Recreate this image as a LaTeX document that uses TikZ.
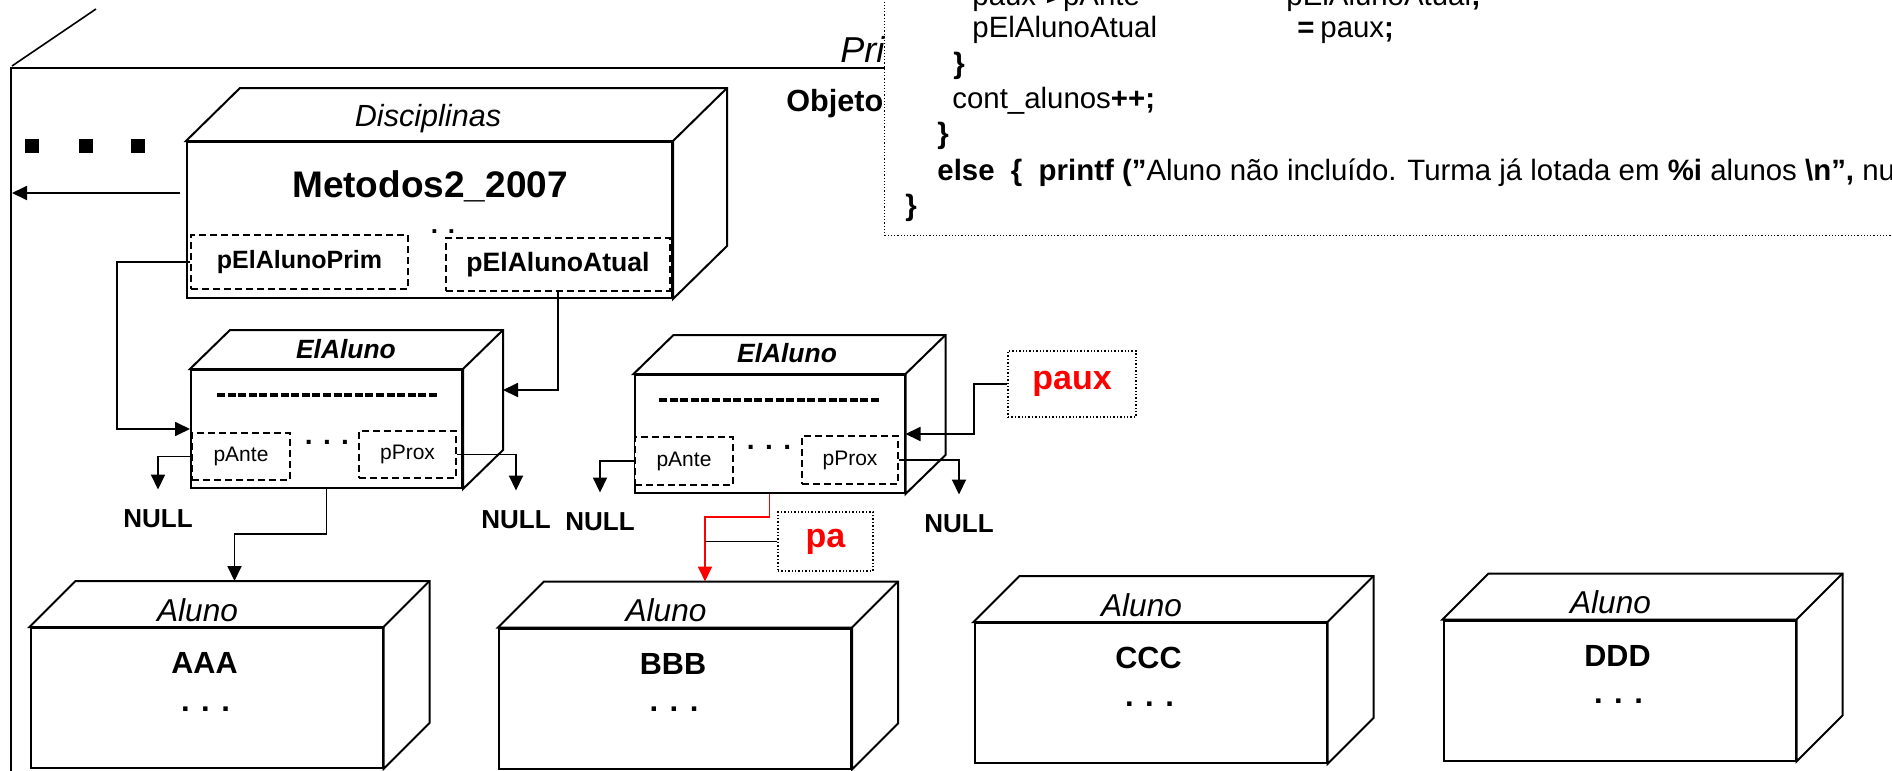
\documentclass[tikz,border=0pt]{standalone}
\usepackage{fontspec}
\setmainfont{Liberation Sans}
\usepackage{tikz}
\usetikzlibrary{arrows.meta, positioning, calc}
\definecolor{vermelho}{HTML}{FF0000}
\newcommand{\tam}[1]{\fontsize{#1}{#1}\selectfont}
% faces de cima e do lado de uma caixa 3D
\newcommand{\faces}[3]{%
  \draw[line width=1pt, line join=miter, fill=white] (#1.north west) -- ++(#2,#3)
    -- ($(#1.north east)+(#2,#3)$) -- ($(#1.south east)+(#2,#3)$)
    -- (#1.south east) -- (#1.north east) -- cycle;
  \draw[line width=1pt] (#1.north east) -- ++(#2,#3);
  \coordinate (#1-topo) at ($(#1.north)+(#2,#3)$);
}

\begin{document}
\begin{tikzpicture}[
  x=0.5pt, y=-0.5pt,
  cubo/.style={draw, line width=1pt, fill=white, inner sep=0,
               minimum width=176pt, minimum height=70pt},
  campo/.style={draw, line width=0.9pt, dash pattern=on 3.5pt off 2pt,
                fill=white, inner sep=0},
  rotulo/.style={draw, line width=0.7pt, densely dotted, text=vermelho,
                 font=\bfseries\tam{17}},
  nulo/.style={inner sep=0, font=\bfseries\tam{13}},
  seta/.style={-{Triangle[length=7.5pt,width=7pt]}, line width=0.9pt},
  cod/.style={anchor=base west, inner sep=0, font=\tam{14.7}}
]
\useasboundingbox (0,0) rectangle (1892,771);
\clip (0,0) rectangle (1892,771);

\draw[line width=0.8pt] (11,790) -- (11,68) -- (900,68);
\draw[line width=0.8pt] (12,66) -- (96,9);
\node[anchor=base west, inner sep=0, font=\itshape\tam{18}] (pri) at (840,62) {Pri};
\node[anchor=base west, inner sep=0, font=\bfseries\tam{15.3}] (objeto) at (786,112) {Objeto};
\foreach \x in {32,86,138} \fill (\x-7,139) rectangle ++(14,14);

% Disciplinas
\node[cubo, minimum width=242.5pt, minimum height=78pt] (disc) at (429.5,220) {};
\faces{disc}{54}{-53}
\node[font=\itshape\tam{15.3}] (disctipo) at (428,119) {Disciplinas};
\node[font=\bfseries\tam{18.5}] (metodos) at (430,186) {Metodos2\_2007};
\node[campo, minimum width=108.5pt, minimum height=27pt, font=\bfseries\tam{12.5}]
  (prim) at (299.5,262) {pElAlunoPrim};
\node[campo, minimum width=112pt, minimum height=26.5pt, font=\bfseries\tam{13.3}]
  (atual) at (558,264.5) {pElAlunoAtual};
\node[font=\bfseries\tam{13}] (pontos0) at (443,232) {. .};
\coordinate (borda) at (12,193);

% ElAluno 1
\node[cubo, minimum width=135.5pt, minimum height=59pt] (el1) at (326.5,429) {};
\faces{el1}{40}{-39}
\node[font=\bfseries\itshape\tam{13.2}] (el1tipo) at (346,349) {ElAluno};
\draw[line width=2.2pt, dash pattern=on 4pt off 1.3pt] (217,395) -- (438,395);
\node[campo, minimum width=49pt, minimum height=23.5pt, font=\tam{10.5}] (ante1) at (241,456.5) {pAnte};
\node[campo, minimum width=48.5pt, minimum height=23.5pt, font=\tam{10.5}] (prox1) at (407.5,454.5) {pProx};
\node[font=\bfseries\tam{14}] (pontos1) at (327,442) {. . .};

% ElAluno 2
\node[cubo, minimum width=135pt, minimum height=59pt] (el2) at (769.5,434) {};
\faces{el2}{40}{-39}
\node[font=\bfseries\itshape\tam{13.2}] (el2tipo) at (787,353) {ElAluno};
\draw[line width=2.2pt, dash pattern=on 4pt off 1.3pt] (659,400) -- (881,400);
\node[campo, minimum width=49pt, minimum height=24pt, font=\tam{10.5}] (ante2) at (684,461) {pAnte};
\node[campo, minimum width=48pt, minimum height=24pt, font=\tam{10.5}] (prox2) at (850,460) {pProx};
\node[font=\bfseries\tam{14}] (pontos2) at (769,447) {. . .};

\node[nulo] (null1) at (158,519) {NULL};
\node[nulo] (null2) at (516,520) {NULL};
\node[nulo] (null3) at (600,522) {NULL};
\node[nulo] (null4) at (959,524) {NULL};

\node[rotulo, minimum width=64pt, minimum height=33pt] (paux) at (1072,384) {paux};
\node[rotulo, minimum width=47.5pt, minimum height=29.5pt] (pa) at (825.5,541.5) {pa};

% Alunos
\foreach \n/\x/\y/\t in {aaa/206.5/698/AAA, bbb/675/698.5/BBB,
                         ccc/1150.5/693/CCC, ddd/1619.5/690.5/DDD} {
  \node[cubo] (\n) at (\x,\y) {};
  \faces{\n}{46}{-46}
  \node[font=\itshape\tam{15.8}] (\n-tipo) at ($(\n)+(-9,-88)$) {Aluno};
  \node[font=\bfseries\tam{15.3}] (\n-nome) at ($(\n)+(-2,-35)$) {\t};
  \node[font=\bfseries\tam{15.5}] (\n-pontos) at ($(\n)+(-1,11)$) {. . .};
}

\draw[seta] ([xshift=-3pt]disc.west |- borda) -- (borda);
\draw[seta] (prim.west) -- ++(-73,0) |- (el1.west);
\draw[seta] (atual.south) |- ([shift={(20pt,19.5pt)}]el1.east);
\draw[seta] (ante1.west) -| ([yshift=10pt]null1.north);
\draw[seta] (prox1.east) -| ([yshift=10pt]null2.north);
\draw[seta] (ante2.west) -| ([yshift=10pt]null3.north);
\draw[seta] (prox2.east) -| ([yshift=10pt]null4.north);
\draw[seta] (el1.south) -- ++(0,45) -| ([xshift=-9pt]aaa-topo);
\draw[seta] (paux.west) -- ++(-33,0) |- (el2.east);
\draw[seta, vermelho] (el2.south) -- ++(0,23) -| ([xshift=-8pt]bbb-topo);
\draw[line width=0.8pt] (pa.west) -- ([xshift=-8pt]bbb-topo |- pa.west);

% codigo
\node[draw, line width=0.6pt, densely dotted, fill=white, anchor=north west,
      minimum width=520pt, minimum height=122.5pt] (codigo) at (884,-10) {};
\node[cod] (l1) at (972,5) {paux\textbf{->}pAnte};
\node[cod] (l1b) at (1286,5) {pElAlunoAtual\textbf{;}};
\node[cod] (l2) at (972,38) {pElAlunoAtual};
\node[cod] (l2b) at (1297,38) {\textbf{=}};
\node[cod] (l2c) at (1320,38) {paux\textbf{;}};
\node[cod] (l3) at (953,73) {\textbf{\}}};
\node[cod] (l4) at (952,108) {cont\_alunos\textbf{++;}};
\node[cod] (l5) at (937,143) {\textbf{\}}};
\node[cod] (l6) at (937,180) {\textbf{else\ \ \{\ \ printf (}\textbf{"}Aluno não incluído. Turma já lotada em \textbf{\%i} alunos \textbf{\textbackslash n",} nu};
\node[cod] (l7) at (905,215) {\textbf{\}}};
\end{tikzpicture}
\end{document}
